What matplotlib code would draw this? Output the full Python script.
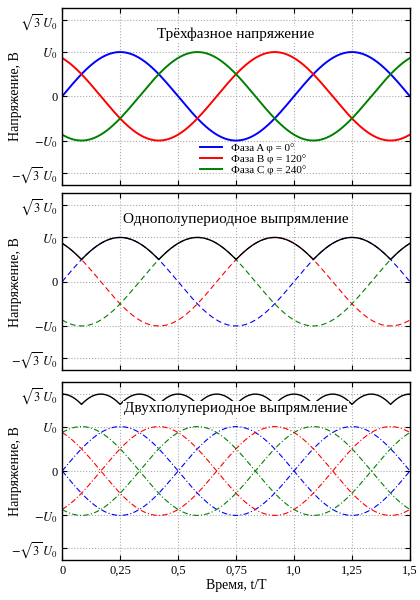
import numpy as np
import matplotlib
matplotlib.use("Agg")
import matplotlib.pyplot as plt

plt.rcParams['font.family'] = ['Liberation Serif', 'DejaVu Serif']
plt.rcParams['mathtext.fontset'] = 'stix'

phase_names = ["Фаза A φ = 0°", "Фаза B φ = 120°", "Фаза C φ = 240°"]
phase_shift_deg = [0, 120, 240]
colors = ["#0000ff", "#ff0000", "#008000"]
titles = ["Трёхфазное напряжение", "Однополупериодное выпрямление", "Двухполупериодное выпрямление"]
xticks = [0, 0.25, 0.5, 0.75, 1.0, 1.25, 1.5]
xticklabels = ["0", "0,25", "0,5", "0,75", "1,0", "1,25", "1,5"]
yticks = [-np.sqrt(3), -1, 0, 1, np.sqrt(3)]
yticklabels = [r"$-\sqrt{3}\,U_0$", r"$-U_0$", "0", r"$U_0$", r"$\sqrt{3}\,U_0$"]

t = np.linspace(0, 1.5, 1500)
V = [np.sin(2*np.pi*t + np.deg2rad(p)) for p in phase_shift_deg]

fig = plt.figure(figsize=(4.2, 6), dpi=100)
rects = [(0.148, 0.692, 0.828, 0.295), (0.148, 0.383, 0.828, 0.295), (0.148, 0.067, 0.828, 0.296)]
axes = [fig.add_axes(r) for r in rects]
for i, ax in enumerate(axes):
    ax.set_xlim(0, 1.5)
    ax.set_ylim(-2, 2)
    ax.set_xticks(xticks)
    ax.set_yticks(yticks)
    ax.set_yticklabels(yticklabels, fontsize=10)
    ax.grid(True, color="#aaaaaa", linestyle=":", linewidth=0.8)
    ax.tick_params(direction="in", top=True, right=True, labelsize=9)
    ax.set_ylabel("Напряжение, В", fontsize=10)
    ax.yaxis.set_label_coords(-0.115, 0.5)
    ax.text(0.5, 0.85, titles[i], transform=ax.transAxes, ha="center", va="center", fontsize=11,
            bbox=dict(facecolor="white", edgecolor="none", pad=1))
    if i < 2:
        ax.set_xticklabels([])
    else:
        ax.set_xticklabels(xticklabels)
        ax.set_xlabel("Время, t/T", fontsize=10, labelpad=2)
    for s in ax.spines.values():
        s.set_linewidth(1.0)

ax = axes[0]
for v, c, n in zip(V, colors, phase_names):
    ax.plot(t, v, color=c, lw=1.4, label=n)
ax.legend(loc="lower center", bbox_to_anchor=(0.55, 0.0), fontsize=8, frameon=False,
          handlelength=2, labelspacing=0.1)

ax = axes[1]
for v, c in zip(V, colors):
    ax.plot(t, v, color=c, lw=0.8, ls=(0, (5, 3)))
ax.plot(t, np.max(V, axis=0), color="black", lw=1.0)

ax = axes[2]
for v, c in zip(V, colors):
    ax.plot(t, v, color=c, lw=0.8, ls=(0, (5, 2, 1, 2)))
    ax.plot(t, -v, color=c, lw=0.8, ls=(0, (5, 2, 1, 2)))
ax.plot(t, np.max(V, axis=0) - np.min(V, axis=0), color="black", lw=1.0)

fig.savefig("out.png", dpi=100)
